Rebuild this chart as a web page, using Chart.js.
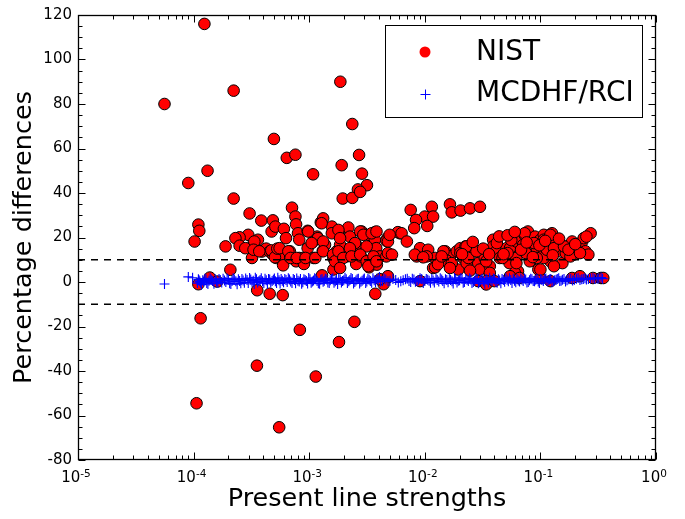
<!DOCTYPE html>
<html>
<head>
<meta charset="utf-8">
<script src="https://cdn.jsdelivr.net/npm/chart.js@4.4.0/dist/chart.umd.min.js"></script>
<style>
html,body{margin:0;padding:0;background:#fff;overflow:hidden;}
#wrap{width:685px;height:519px;position:relative;}
</style>
</head>
<body>
<div id="wrap"><canvas id="c" width="685" height="519"></canvas></div>
<script>
// ---- data ----
const seriesNames = ['NIST', 'MCDHF/RCI'];
const xTickExponents = [-5, -4, -3, -2, -1, 0];
const yTickValues = [-80, -60, -40, -20, 0, 20, 40, 60, 80, 100, 120];
const thresholdLevels = [10, -10];

const nistData = [
[5.6e-5,80],[1.24e-4,116],[2.22e-4,86],[9.0e-5,44.5],[1.32e-4,50],[2.22e-4,37.5],[1.1e-4,25.8],[1.12e-4,23],[1.02e-4,18.2],[1.89e-4,16],[1.15e-4,-16.3],[1.06e-4,-54.5],[1.38e-4,2],[1.6e-4,0.2],[2.08e-4,5.5],[1.1e-4,-1],
[1.86e-3,90],[2.36e-3,71],[4.95e-4,64.3],[6.4e-4,55.8],[7.6e-4,57.2],[2.7e-3,57.1],[1.91e-3,52.5],[1.08e-3,48.4],[2.86e-3,48.7],[3.16e-3,43.5],[2.64e-3,41.6],[1.95e-3,37.5],[2.36e-3,37.8],[2.76e-3,40.5],
[3.05e-4,30.8],[3.85e-4,27.6],[4.85e-4,27.7],[4.73e-4,22.7],[5.1e-4,24.9],[6.04e-4,23.9],[7.1e-4,33.4],[2.97e-4,21.2],[2.5e-4,20.1],[2.3e-4,19.7],[2.5e-4,16.3],[3.3e-4,17.2],[3.6e-4,19],[2.8e-4,15.2],[3.45e-4,14.8],[3.2e-4,10.8],[3.9e-4,13.7],[4.25e-4,15],[4.55e-4,13.7],[4.85e-4,12.3],[5.2e-4,10.8],[5.55e-4,14.5],[5.9e-4,12.3],
[3.55e-4,-3.7],[4.55e-4,-5.3],[5.9e-4,-5.9],[8.3e-4,-21.5],[2.46e-3,-17.9],[1.81e-3,-27],[3.53e-4,-37.6],[1.14e-3,-42.5],[5.5e-4,-65.3],[3.73e-3,-5.3],
[7.6e-4,29.4],[7.7e-4,25.9],[8.0e-4,21.9],[8.2e-4,19],[9.7e-4,23],[1.26e-3,26.8],[1.32e-3,28.6],[1.17e-3,20.4],[1.08e-3,18.2],[1.57e-3,24.9],[1.82e-3,23],[2.18e-3,24.5],[2.84e-3,22.7],[3.71e-3,22.4],[4.74e-3,19.7],[6.1e-3,21.9],
[3.35e-4,18.2],[3.3e-4,14.5],[3.7e-4,13.8],[4.7e-4,14.2],[5.05e-4,11.1],[5.3e-4,15],[5.95e-4,7.5],[6.8e-4,13.8],[6.85e-4,11.1],[7.7e-4,9.3],[8.8e-4,10.8],[9.7e-4,15.2],[1.09e-3,10.8],[1.19e-3,19.7],[1.37e-3,16.7],[1.31e-3,14],[1.62e-3,10.8],[1.62e-3,5.6],[1.73e-3,13.8],[1.85e-3,16.7],[2.1e-3,11.5],[2.25e-3,20.4],[2.55e-3,16.7],[2.55e-3,8.1],[2.8e-3,11.5],[3.3e-3,21.2],[3.3e-3,6.6],[3.7e-3,19],[3.85e-3,7.8],[3.8e-3,15.2],[4.1e-3,11.5],[4.65e-3,18.5],[4.9e-3,12.3],[4.8e-3,2.1],[1.29e-3,3],[4.4e-3,-1],[5.85e-3,22.4],
[6.3e-4,19.7],[5.55e-4,15.2],[6.6e-4,13.8],[6.9e-4,10.8],[8.2e-4,10.8],[9.0e-4,8.1],[9.8e-4,22.7],[1.05e-3,17.5],[1.32e-3,18.2],[1.28e-3,26.4],[1.57e-3,21.9],[1.79e-3,23.4],[1.85e-3,19.7],[2.49e-3,17.5],[2.76e-3,22.7],[2.94e-3,21.2],[3.14e-3,16],[3.47e-3,21.9],[3.82e-3,22.7],[4.8e-3,18.2],[4.96e-3,21.2],
[7.8e-4,10.8],[9.3e-4,10.8],[1.13e-3,10.8],[1.32e-3,13.8],[1.61e-3,12.3],[1.67e-3,9.3],[1.79e-3,13.8],[1.97e-3,10.8],[2.25e-3,15.2],[2.32e-3,11.5],[2.76e-3,12.3],[3.14e-3,9.3],[3.25e-3,7.1],[3.6e-3,11.5],[3.82e-3,9.3],[4.65e-3,11.5],[4.8e-3,13],[1.85e-3,6.3],
[7.55e-3,32.4],[1.0e-2,29.4],[1.15e-2,33.8],[1.18e-2,29.4],[8.4e-3,27.9],[8.1e-3,24.2],[1.05e-2,25.2],[1.65e-2,34.9],[1.71e-2,31.3],[2.04e-2,32.1],[2.46e-2,33.1],[3.0e-2,33.8],[6.3e-3,21.9],[7.0e-3,18.2],[5.2e-3,12.3],[9.1e-3,15.2],[8.5e-3,11.5],[1.07e-2,14.5],[1.23e-2,10.8],[1.04e-2,11.5],[1.18e-2,6.3],[1.5e-2,13.8],[1.6e-2,8.5],[1.65e-2,11.5],[1.89e-2,13.8],[2.03e-2,15.2],[2.15e-2,10.8],[2.25e-2,16],[1.95e-2,5.6],[2.3e-2,8.5],[2.73e-2,13.8],[2.9e-2,8.5],[3.0e-2,5.6],[3.3e-2,10.8],[3.65e-2,7.1],[3.9e-2,19],[3.9e-2,16],[4.15e-2,13.8],[3.65e-2,4.1],[4.45e-2,10.8],[5.1e-2,15.2],[5.4e-2,8.5],[5.8e-2,13],[6.2e-2,16.7],[6.4e-2,4.8],[3.4e-2,0.4],[2.46e-2,5.1],
[5.46e-2,15.2],[6.2e-2,18.2],[6.6e-2,19.7],[7.3e-2,21.2],[7.1e-2,16.7],[7.8e-2,22.7],[8.4e-2,18.2],[8.1e-2,13],[9.0e-2,20.4],[9.3e-2,15.2],[1.0e-1,19],[1.03e-1,11.5],[1.07e-1,21.2],[1.14e-1,16.7],[1.18e-1,13],[1.22e-1,19.7],[1.26e-1,21.9],[1.31e-1,16],[1.35e-1,19],[1.4e-1,13.8],[1.5e-1,16.7],[1.55e-1,8.5],[1.66e-1,13],[1.71e-1,16],[1.88e-1,18.2],[1.94e-1,12.3],[2.08e-1,13.8],[2.15e-1,15.2],[2.3e-1,18.2],[2.37e-1,19.7],[2.45e-1,13.8],[2.72e-1,21.9],[2.6e-1,12.3],[9.6e-2,5.6],[1.22e-1,9.3],[1.31e-1,7.1],[1.07e-1,10.8],[8.1e-2,9.3],[6.2e-2,10.8],[6.0e-2,4.1],
[4.1e-3,1.25],[4.8e-3,2.6],[9.1e-3,0.4],[2.9e-2,0.4],[3.4e-2,-1.1],[4.0e-2,0.4],[5.46e-2,2.6],[6.6e-2,1.8],[1.0e-1,1.8],[1.22e-1,0.4],[1.88e-1,1.8],[2.2e-1,2.6],[2.85e-1,1.8],[3.35e-1,1.8],[3.5e-1,1.8],
[8.2e-3,12.3],[9.7e-3,11.1],[1.23e-2,6.6],[1.45e-2,13.8],[1.55e-2,9.6],[1.71e-2,8.5],[1.65e-2,6.3],[2.03e-2,13],[2.3e-2,16],[2.38e-2,10.8],[2.8e-2,13.8],[3.4e-2,9.3],[4.7e-2,10.8],[5.2e-2,13],[6.2e-2,8.5],[7.3e-2,21.9],[7.5e-2,13],[8.8e-2,17.5],[9.3e-2,10.8],[1.0e-1,5.6],[1.07e-1,19],[1.14e-1,14.5],[1.22e-1,21.2],[1.31e-1,15.2],[1.6e-1,16],[1.82e-1,11.5],[2.2e-1,13],[2.5e-1,20.4],
[2.6e-2,18],[3.2e-2,15],[4.2e-2,17.5],[4.8e-2,12.5],[5.6e-2,18.8],[6.8e-2,14.5],[7.6e-2,17.8],[8.6e-2,11.2],[9.8e-2,16.5],[1.1e-1,18.5],[1.28e-1,12],[1.45e-1,19.5],[1.75e-1,14.5],[2.0e-1,17],[4.4e-2,20.5],[5.2e-2,21],[6.0e-2,22.5],[3.6e-2,12.5],[2.1e-2,12.5],[1.3e-2,8],[1.4e-2,11.5]
];

const mcdhfData = [
[5.6e-5,-0.9],[9.0e-5,2.3],[9.8e-5,1.9],[1.08e-4,-0.5],[1.1e-4,1.2],[1.13e-4,0.3],[1.17e-4,-1.2],[1.2e-4,0.8],[1.25e-4,1.5],[1.3e-4,-0.4],[1.36e-4,0.6],[1.42e-4,1.0],[1.5e-4,-0.8],[1.58e-4,0.2],[1.66e-4,1.3],[1.75e-4,-0.2],[1.85e-4,0.7],[1.95e-4,1.6],[2.05e-4,-0.6],[2.15e-4,0.4],[2.25e-4,1.1],[2.38e-4,-1.0],[2.5e-4,0.5],[2.62e-4,1.4],[2.75e-4,-0.3],[2.9e-4,0.9],[3.05e-4,1.8],[3.2e-4,0.1],[3.35e-4,-0.9],[3.5e-4,1.2],[3.68e-4,0.4],[3.85e-4,1.7],[4.05e-4,-0.5],[4.25e-4,0.8],[4.45e-4,1.3],[4.65e-4,-0.2],[4.9e-4,1.0],[5.1e-4,0.3],[5.35e-4,1.9],[5.6e-4,-0.7],[5.85e-4,0.6],[6.15e-4,1.4],[6.45e-4,0.0],[6.75e-4,1.1],[7.1e-4,-0.4],[7.45e-4,0.9],[7.8e-4,1.6],[8.2e-4,0.2],[8.6e-4,-0.8],[9.0e-4,1.2],[9.45e-4,0.5],[9.9e-4,1.8],
[1.04e-3,-0.3],[1.09e-3,0.7],[1.14e-3,1.3],[1.2e-3,-0.6],[1.26e-3,1.0],[1.32e-3,0.1],[1.38e-3,1.5],[1.45e-3,-0.2],[1.52e-3,0.8],[1.6e-3,1.7],[1.68e-3,0.3],[1.76e-3,-0.9],[1.85e-3,1.1],[1.94e-3,0.5],[2.04e-3,1.9],[2.14e-3,-0.4],[2.25e-3,0.9],[2.36e-3,1.4],[2.48e-3,0.0],[2.6e-3,1.2],[2.73e-3,-0.7],[2.87e-3,0.6],[3.0e-3,1.6],[3.15e-3,0.2],[3.3e-3,1.0],[3.47e-3,-0.3],[3.65e-3,0.8],[3.85e-3,1.5],[4.05e-3,2.2],[4.3e-3,0.4],[4.6e-3,1.1],[5.0e-3,0.6],[5.6e-3,0.9],[6.2e-3,0.3],[6.8e-3,1.2],[7.3e-3,0.5],[7.8e-3,1.5],[8.3e-3,0.1],[8.8e-3,0.8],[9.4e-3,1.3],
[1.0e-2,0.4],[1.06e-2,1.0],[1.12e-2,-0.3],[1.18e-2,0.7],[1.25e-2,1.6],[1.32e-2,0.2],[1.4e-2,1.1],[1.47e-2,-0.6],[1.55e-2,0.9],[1.63e-2,1.4],[1.72e-2,0.3],[1.81e-2,1.8],[1.9e-2,-0.2],[2.0e-2,0.8],[2.1e-2,1.3],[2.2e-2,0.0],[2.32e-2,1.0],[2.44e-2,1.7],[2.56e-2,-0.5],[2.7e-2,0.6],[2.84e-2,1.2],[2.98e-2,0.2],[3.13e-2,1.5],[3.3e-2,-0.8],[3.46e-2,0.9],[3.64e-2,1.9],[3.82e-2,0.4],[4.02e-2,1.1],[4.22e-2,-0.3],[4.44e-2,0.7],[4.66e-2,1.4],[4.9e-2,0.1],[5.15e-2,1.0],[5.4e-2,1.7],[5.68e-2,-0.4],[5.97e-2,0.6],[6.27e-2,1.3],[6.6e-2,0.2],[6.93e-2,1.0],[7.28e-2,1.6],[7.65e-2,-0.2],[8.05e-2,0.8],[8.45e-2,1.2],[8.9e-2,0.3],[9.35e-2,1.5],[9.8e-2,-0.5],
[1.03e-1,0.9],[1.09e-1,1.3],[1.14e-1,0.4],[1.2e-1,1.1],[1.26e-1,-0.1],[1.33e-1,0.8],[1.4e-1,1.4],[1.47e-1,0.5],[1.55e-1,1.0],[1.65e-1,0.2],[1.76e-1,1.2],[1.9e-1,0.7],[2.05e-1,1.5],[2.2e-1,0.9],[2.35e-1,1.3],[2.5e-1,1.1],[2.72e-1,1.6],[2.95e-1,1.4],[3.2e-1,1.7],[3.45e-1,1.5],
[1.11e-4,0.9],[1.15e-4,-0.3],[1.22e-4,0.1],[1.28e-4,1.1],[1.33e-4,-0.9],[1.39e-4,1.7],[1.46e-4,0.4],[1.54e-4,1.2],[1.62e-4,-0.5],[1.7e-4,0.9],[1.8e-4,1.5],[1.9e-4,0.0],[2.0e-4,1.0],[2.1e-4,-0.9],[2.2e-4,1.7],[2.32e-4,0.3],[2.44e-4,1.2],[2.56e-4,-0.6],[2.68e-4,0.7],[2.82e-4,1.6],[2.97e-4,-0.4],[3.12e-4,1.1],[3.28e-4,0.6],[3.42e-4,1.9],[3.58e-4,-0.2],[3.76e-4,0.9],[3.95e-4,0.3],[4.15e-4,1.5],[4.35e-4,-0.8],[4.55e-4,1.1],[4.78e-4,0.5],[5.0e-4,1.6],[5.22e-4,-0.4],[5.48e-4,0.8],[5.72e-4,1.3],[6.0e-4,-0.1],[6.3e-4,0.9],[6.6e-4,1.7],[6.92e-4,0.2],[7.28e-4,1.3],[7.62e-4,-0.6],[8.0e-4,0.6],[8.4e-4,1.4],[8.8e-4,-0.1],[9.22e-4,0.9],[9.68e-4,-0.7],
[1.015e-3,1.2],[1.065e-3,0.2],[1.115e-3,1.7],[1.17e-3,0.4],[1.23e-3,-0.8],[1.29e-3,1.3],[1.35e-3,0.6],[1.42e-3,1.1],[1.49e-3,-0.5],[1.56e-3,1.4],[1.64e-3,-0.3],[1.72e-3,0.9],[1.8e-3,1.6],[1.9e-3,-0.2],[1.99e-3,0.8],[2.09e-3,1.2],[2.2e-3,0.3],[2.3e-3,1.8],[2.42e-3,-0.7],[2.54e-3,0.7],[2.66e-3,1.5],[2.8e-3,0.1],[2.94e-3,1.1],[3.08e-3,-0.5],[3.22e-3,1.4],[3.38e-3,0.5],[3.56e-3,1.7],[3.75e-3,-0.1],[3.95e-3,0.9],[4.15e-3,0.2],[4.45e-3,1.6],[4.8e-3,0.3],[5.3e-3,1.3],[5.9e-3,-0.2],[6.5e-3,0.8],[7.05e-3,1.5],[7.55e-3,0.0],[8.05e-3,1.1],[8.55e-3,0.5],[9.1e-3,1.7],[9.7e-3,-0.4],
[1.03e-2,1.3],[1.09e-2,0.6],[1.15e-2,1.4],[1.21e-2,-0.2],[1.28e-2,0.9],[1.36e-2,1.7],[1.43e-2,0.4],[1.51e-2,1.2],[1.59e-2,-0.1],[1.67e-2,0.9],[1.76e-2,-0.7],[1.85e-2,1.1],[1.95e-2,0.6],[2.05e-2,1.8],[2.15e-2,-0.3],[2.26e-2,1.4],[2.38e-2,0.4],[2.5e-2,1.1],[2.63e-2,0.0],[2.77e-2,1.6],[2.91e-2,-0.6],[3.05e-2,0.9],[3.21e-2,0.3],[3.38e-2,1.3],[3.55e-2,-0.2],[3.73e-2,0.8],[3.92e-2,1.6],[4.12e-2,0.0],[4.33e-2,1.2],[4.55e-2,-0.6],[4.78e-2,0.9],[5.02e-2,1.8],[5.28e-2,0.3],[5.54e-2,0.9],[5.82e-2,1.5],[6.12e-2,-0.1],[6.43e-2,0.7],[6.76e-2,1.6],[7.1e-2,0.4],[7.46e-2,1.1],[7.85e-2,0.0],[8.25e-2,1.5],[8.67e-2,0.5],[9.12e-2,1.0],[9.58e-2,0.2],
[1.005e-1,1.3],[1.06e-1,0.4],[1.115e-1,1.6],[1.17e-1,0.7],[1.23e-1,1.3],[1.3e-1,0.3],[1.37e-1,1.0],[1.44e-1,1.7],[1.51e-1,0.6],[1.6e-1,1.4],[1.7e-1,0.8],[1.83e-1,1.5],[1.97e-1,1.0],[2.12e-1,1.8],[2.28e-1,1.2],[2.43e-1,1.7],[2.6e-1,1.3],[2.85e-1,1.9],[3.1e-1,1.5],[3.35e-1,2.0]
];

const FONT = "'DejaVu Sans', 'Liberation Sans', sans-serif";
const X_MIN = 1e-5, X_MAX = 1;

const toXY = arr => arr.map(p => ({x: p[0], y: p[1]}));

const decorPlugin = {
  id: 'decor',
  afterDatasetsDraw(chart) {
    const {ctx, chartArea: ca, scales: {x, y}} = chart;
    ctx.save();
    ctx.strokeStyle = '#000';
    ctx.lineWidth = 1;
    const L = Math.round(ca.left) + 0.5, R = Math.round(ca.right) - 0.5;
    const T = Math.round(ca.top) + 0.5, B = Math.round(ca.bottom) - 0.5;
    ctx.beginPath();
    for (const e of xTickExponents) {
      for (let m = 1; m <= 9; m++) {
        const v = m * Math.pow(10, e);
        if (v > X_MAX * 1.0001) break;
        const px = Math.round(x.getPixelForValue(v)) + 0.5;
        const len = m === 1 ? 7 : 4;
        ctx.moveTo(px, B); ctx.lineTo(px, B - len);
        ctx.moveTo(px, T); ctx.lineTo(px, T + len);
      }
    }
    for (let v = -80; v <= 120; v += 5) {
      const py = Math.round(y.getPixelForValue(v)) + 0.5;
      const len = (v % 20 === 0) ? 7 : 4;
      ctx.moveTo(L, py); ctx.lineTo(L + len, py);
      ctx.moveTo(R, py); ctx.lineTo(R - len, py);
    }
    ctx.stroke();
    ctx.lineWidth = 1.3;
    ctx.strokeRect(L, T, R - L, B - T);

    // x tick labels with superscripts
    ctx.fillStyle = '#000';
    ctx.textBaseline = 'alphabetic';
    ctx.textAlign = 'left';
    for (const e of xTickExponents) {
      const px = x.getPixelForValue(Math.pow(10, e));
      ctx.font = '15px ' + FONT;
      const base = '10';
      const wb = ctx.measureText(base).width;
      ctx.font = '10.5px ' + FONT;
      const ex = String(e);
      const we = ctx.measureText(ex).width;
      const x0 = px - (wb + we) / 2 - 2;
      ctx.font = '15px ' + FONT;
      ctx.fillText(base, x0, 482);
      ctx.font = '10.5px ' + FONT;
      ctx.fillText(ex, x0 + wb, 477);
    }

    // legend
    ctx.lineWidth = 1;
    ctx.strokeStyle = '#000';
    ctx.strokeRect(385.5, 25.5, 257, 92);
    ctx.fillStyle = '#ff0000';
    ctx.beginPath(); ctx.arc(425, 52, 5.5, 0, Math.PI * 2); ctx.fill();
    ctx.strokeStyle = '#0000ff';
    ctx.beginPath();
    ctx.moveTo(420.5, 94.5); ctx.lineTo(430.5, 94.5);
    ctx.moveTo(425.5, 89.5); ctx.lineTo(425.5, 99.5);
    ctx.stroke();
    ctx.fillStyle = '#000';
    ctx.font = '28px ' + FONT;
    ctx.fillText(seriesNames[0], 476, 60);
    ctx.fillText(seriesNames[1], 476, 101);
    ctx.restore();
  }
};

const datasets = [
  {
    label: seriesNames[0],
    data: toXY(nistData),
    showLine: false,
    pointStyle: 'circle',
    pointRadius: 5.8,
    pointBackgroundColor: '#ff0000',
    pointBorderColor: '#000000',
    pointBorderWidth: 1,
    order: 3
  },
  {
    label: seriesNames[1],
    data: toXY(mcdhfData),
    showLine: false,
    pointStyle: 'cross',
    pointRadius: 5,
    pointBorderColor: '#0000ff',
    pointBackgroundColor: '#0000ff',
    pointBorderWidth: 1.1,
    order: 2
  }
];
thresholdLevels.forEach(lv => {
  datasets.push({
    type: 'line',
    label: 'level ' + lv,
    data: [{x: X_MIN, y: lv}, {x: X_MAX, y: lv}],
    borderColor: '#000000',
    borderWidth: 1.5,
    borderDash: [7, 6],
    pointRadius: 0,
    fill: false,
    order: 1
  });
});

new Chart(document.getElementById('c'), {
  type: 'scatter',
  data: { datasets },
  options: {
    responsive: false,
    animation: false,
    devicePixelRatio: 1,
    layout: { padding: { top: 12, right: 29, left: 0, bottom: 0 } },
    plugins: { legend: { display: false }, tooltip: { enabled: false } },
    scales: {
      x: {
        type: 'logarithmic',
        position: 'bottom',
        min: X_MIN, max: X_MAX,
        grid: { display: false, drawTicks: false },
        border: { display: false },
        afterBuildTicks: s => { s.ticks = xTickExponents.map(e => ({ value: Math.pow(10, e) })); },
        ticks: { display: false },
        afterFit: s => { s.height = 59; },
        title: {
          display: true, text: 'Present line strengths', color: '#000',
          font: { family: FONT, size: 25.5 }, padding: { top: 0, bottom: 4 }
        }
      },
      y: {
        type: 'linear',
        min: -80, max: 120,
        grid: { display: false, drawTicks: false },
        border: { display: false },
        afterBuildTicks: s => { s.ticks = yTickValues.map(v => ({ value: v })); },
        ticks: { color: '#000', font: { family: FONT, size: 15 }, padding: 6 },
        afterFit: s => { s.width = 78; },
        title: {
          display: true, text: 'Percentage differences', color: '#000',
          font: { family: FONT, size: 25.5 }, padding: { top: 9, bottom: 0 }
        }
      }
    }
  },
  plugins: [decorPlugin]
});
</script>
</body>
</html>
